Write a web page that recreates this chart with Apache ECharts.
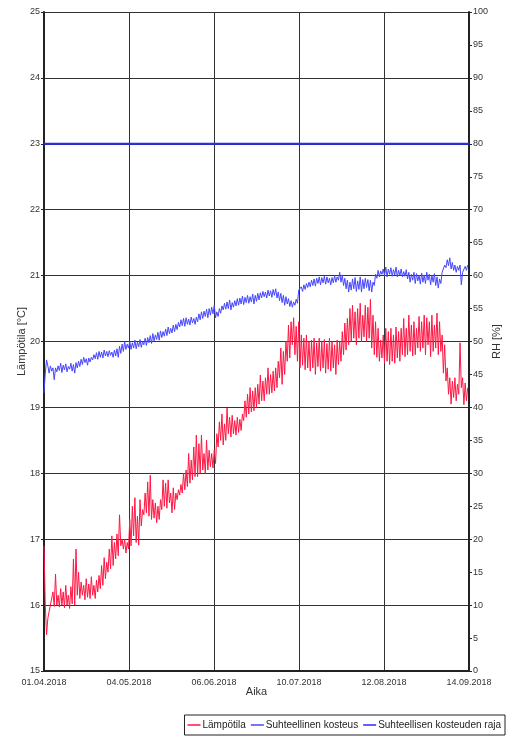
<!DOCTYPE html>
<html>
<head>
<meta charset="utf-8">
<script src="https://cdn.jsdelivr.net/npm/echarts@6/dist/echarts.min.js"></script>
<style>html,body{margin:0;padding:0;background:#fff}#c{width:515px;height:738px}</style>
</head>
<body>
<div id="c"></div>
<script>
// x tick labels (5 equal intervals over 166 days)
const xLabels = ['01.04.2018','04.05.2018','06.06.2018','10.07.2018','12.08.2018','14.09.2018'];
const totalDays = 166;
const seriesNames = ['Lämpötila','Suhteellinen kosteus','Suhteellisen kosteuden raja'];

// Temperature [°C]: value at start of each day (A) and at mid-day (B), days 0..165
const tempA = [
16.9,15.55,15.9,16.0,15.98,16.0,15.97,16.0,15.96,16.0,
15.95,16.02,16.0,16.15,16.1,16.15,16.08,16.12,16.1,16.15,
16.1,16.2,16.25,16.3,16.4,16.5,16.55,16.6,16.7,16.75,
16.9,16.85,16.79,16.85,16.9,17.05,16.95,16.91,17.2,17.37,
17.4,17.35,17.3,17.32,17.25,17.3,17.45,17.5,17.47,17.55,
17.4,17.45,17.6,17.67,17.7,17.75,17.8,17.85,17.9,17.95,
17.95,18.0,18.05,18.0,18.05,18.1,18.08,18.15,18.4,18.5,
18.43,18.5,18.6,18.55,18.6,18.58,18.62,18.65,18.8,18.85,
18.9,18.93,18.95,19.0,19.05,19.1,19.1,19.2,19.2,19.22,
19.25,19.3,19.45,19.35,19.5,19.7,19.75,19.95,19.8,19.7,
19.6,19.64,19.57,19.6,19.55,19.6,19.5,19.62,19.55,19.6,
19.52,19.58,19.55,19.6,19.5,19.65,19.7,19.8,19.87,19.95,
20.0,20.05,19.95,20.05,20.0,20.07,20.0,20.05,19.9,19.8,
19.76,19.7,19.75,19.67,19.7,19.65,19.7,19.67,19.75,19.7,
19.8,19.77,19.8,19.85,19.78,19.8,19.9,19.85,19.9,19.8,
19.95,19.77,19.85,19.9,19.8,19.85,19.52,19.4,19.2,19.05,
19.15,19.1,19.2,19.3,19.04,19.1
];
const tempB = [
16.0,15.8,16.0,16.2,16.47,16.15,16.25,16.2,16.3,16.15,
16.28,16.7,16.85,16.5,16.35,16.3,16.4,16.32,16.43,16.3,
16.38,16.45,16.6,16.72,16.65,16.85,17.05,16.95,17.08,17.37,
17.0,17.0,16.95,17.3,17.5,17.63,17.35,17.6,17.45,17.7,
17.87,17.97,17.6,17.55,17.5,17.6,17.9,17.85,17.9,17.7,
17.78,17.7,17.75,17.83,18.0,18.05,18.3,18.2,18.4,18.58,
18.45,18.58,18.3,18.5,18.35,18.3,18.35,18.6,18.78,18.9,
18.75,18.99,18.85,18.88,18.8,18.85,18.82,18.9,19.1,19.2,
19.3,19.25,19.3,19.35,19.49,19.4,19.45,19.6,19.5,19.55,
19.6,19.7,19.9,19.85,20.0,20.25,20.3,20.36,20.23,20.3,
20.1,20.05,20.1,20.0,20.02,20.05,19.98,20.05,20.0,20.03,
19.97,20.05,20.0,19.95,20.02,20.0,20.15,20.28,20.35,20.5,
20.55,20.45,20.5,20.58,20.4,20.55,20.52,20.64,20.4,20.3,
20.2,20.02,20.1,20.2,20.15,20.2,20.1,20.22,20.15,20.2,
20.35,20.2,20.4,20.25,20.3,20.2,20.38,20.3,20.4,20.36,
20.3,20.4,20.25,20.43,20.3,20.1,19.95,19.6,19.45,19.4,
19.45,19.35,19.98,19.45,19.37,19.3
];

// Relative humidity [%]: value at start of each day (A) and at mid-day (B), days 0..165
const rhA = [
42.2,47.2,45.2,45.5,44.2,45.4,45.6,45.3,45.7,45.4,
45.8,45.5,45.2,46.0,46.2,46.5,46.8,46.4,46.9,47.2,
47.4,47.3,47.6,47.5,47.8,47.7,47.9,47.6,47.8,47.6,
48.2,48.5,48.8,49.0,48.8,49.0,48.9,49.2,49.1,49.5,
49.4,49.8,49.7,50.1,50.3,50.2,50.6,50.8,50.9,51.2,
51.3,51.5,51.8,52.2,52.4,52.3,52.6,52.5,52.8,52.6,
53.0,53.3,53.5,53.8,53.6,54.0,54.2,53.6,53.8,54.3,
54.8,54.9,55.0,54.8,55.2,55.4,55.5,55.7,55.6,55.9,
55.8,56.0,55.7,56.1,56.3,56.6,56.8,56.6,56.9,56.7,
57.0,56.6,56.2,55.9,55.5,55.7,55.3,55.2,55.5,55.8,
57.5,57.6,57.9,58.2,58.3,58.5,58.4,58.8,58.6,58.9,
58.7,58.9,58.6,58.9,59.0,59.3,59.0,58.5,58.0,57.5,
57.8,58.0,57.6,57.9,57.5,58.0,58.2,57.7,57.5,58.5,
59.6,59.8,60.2,60.0,59.8,60.2,59.9,60.1,59.8,60.0,
59.8,59.9,59.5,59.0,59.3,58.8,59.2,58.7,59.0,58.8,
59.3,58.6,59.0,58.5,58.1,58.8,60.5,61.2,61.5,61.0,
60.8,60.5,60.8,58.6,60.5,60.8
];
const rhB = [
45.2,46.3,46.3,46.0,46.0,46.3,46.7,46.4,46.6,46.2,
46.7,46.5,46.8,47.0,47.3,47.6,47.4,47.5,47.6,48.0,
48.3,48.5,48.4,48.7,48.5,48.6,48.4,48.7,48.9,49.3,
49.6,50.0,49.6,50.0,49.8,50.2,49.9,50.3,50.0,50.5,
50.6,50.9,51.2,51.0,51.4,51.6,51.5,51.9,52.2,52.0,
52.5,52.6,52.9,53.3,53.5,53.6,53.4,53.7,53.5,53.7,
54.2,54.5,54.6,54.9,55.0,55.2,55.5,54.5,55.0,55.4,
55.8,56.0,56.3,55.9,56.2,56.5,56.6,56.9,56.7,57.0,
56.8,57.2,57.0,57.3,57.4,57.6,57.5,57.8,57.7,57.9,
58.0,57.5,57.3,57.0,56.8,56.5,56.2,56.0,56.4,57.8,
58.3,58.6,58.8,59.0,59.3,59.5,59.6,59.8,59.7,59.9,
59.8,59.6,59.7,60.0,59.8,60.5,60.1,59.6,59.3,59.0,
59.5,59.7,59.2,59.8,59.4,59.6,59.4,59.3,59.0,60.2,
60.8,60.7,61.0,61.3,61.0,61.2,60.9,61.3,60.8,61.0,
60.6,60.9,60.5,60.2,60.5,60.3,60.0,60.4,60.1,60.5,
60.2,60.0,60.3,59.8,59.5,60.5,61.6,62.4,62.7,62.0,
61.6,61.4,61.6,60.5,61.4,61.6
];

// RH limit [%]
const rhLimit = 80;

function interleave(a, b) {
  const out = [];
  for (let i = 0; i < a.length; i++) {
    out.push([i, a[i]]);
    out.push([i + 0.5, b[i]]);
  }
  return out;
}

const tickStep = totalDays / (xLabels.length - 1);
const font = 'Liberation Sans, Arial, sans-serif';
const lblColor = '#333';
const colors = ['#ff1744', '#4646ff', '#2a2aff'];

const chart = echarts.init(document.getElementById('c'), null, {renderer: 'canvas'});
chart.setOption({
  animation: false,
  backgroundColor: '#fff',
  grid: {left: 44, right: 46, top: 12, bottom: 67, containLabel: false},
  legend: {
    right: 10, bottom: 3,
    data: seriesNames.map((n, i) => ({
      name: n, icon: 'rect',
      itemStyle: {color: colors[i], borderWidth: 0}
    })),
    itemWidth: 13, itemHeight: 1.5,
    itemGap: 5,
    borderColor: '#222', borderWidth: 1, borderRadius: 0,
    padding: [5, 4, 5, 3],
    textStyle: {fontFamily: font, fontSize: 10, color: '#222', padding: [0, 0, 0, -3]}
  },
  xAxis: {
    type: 'value', min: 0, max: totalDays, interval: tickStep,
    name: 'Aika', nameLocation: 'middle', nameGap: 15, nameMoveOverlap: false,
    nameTextStyle: {fontFamily: font, fontSize: 11, color: lblColor},
    axisLine: {show: true, lineStyle: {color: '#222', width: 2}},
    axisTick: {show: false},
    axisLabel: {
      fontFamily: font, fontSize: 9, color: lblColor, margin: 7,
      showMinLabel: true, showMaxLabel: true,
      formatter: v => xLabels[Math.round(v / tickStep)]
    },
    splitLine: {show: true, lineStyle: {color: '#333', width: 1}}
  },
  yAxis: [
    {
      type: 'value', min: 15, max: 25, interval: 1, position: 'left',
      name: 'Lämpötila [°C]', nameLocation: 'middle', nameGap: 17, nameRotate: 90,
      nameMoveOverlap: false,
      nameTextStyle: {fontFamily: font, fontSize: 11, color: lblColor},
      axisLine: {show: true, lineStyle: {color: '#222', width: 2}},
      axisTick: {show: true, length: 3, lineStyle: {color: '#222'}},
      axisLabel: {fontFamily: font, fontSize: 9, color: lblColor, margin: 4},
      splitLine: {show: true, lineStyle: {color: '#333', width: 1}}
    },
    {
      type: 'value', min: 0, max: 100, interval: 5, position: 'right',
      name: 'RH [%]', nameLocation: 'middle', nameGap: 22, nameRotate: 90,
      nameMoveOverlap: false,
      nameTextStyle: {fontFamily: font, fontSize: 11, color: lblColor},
      axisLine: {show: true, lineStyle: {color: '#222', width: 2}},
      axisTick: {show: true, length: 3, lineStyle: {color: '#222'}},
      axisLabel: {fontFamily: font, fontSize: 9, color: lblColor, margin: 4},
      splitLine: {show: false}
    }
  ],
  series: [
    {
      name: seriesNames[0], type: 'line', yAxisIndex: 0,
      data: interleave(tempA, tempB),
      showSymbol: false, symbol: 'none',
      lineStyle: {color: colors[0], width: 1},
      itemStyle: {color: colors[0]}, color: colors[0], z: 3
    },
    {
      name: seriesNames[1], type: 'line', yAxisIndex: 1,
      data: interleave(rhA, rhB),
      showSymbol: false, symbol: 'none',
      lineStyle: {color: colors[1], width: 1},
      itemStyle: {color: colors[1]}, color: colors[1], z: 3
    },
    {
      name: seriesNames[2], type: 'line', yAxisIndex: 1,
      data: [[0, rhLimit], [totalDays, rhLimit]],
      showSymbol: false, symbol: 'none',
      lineStyle: {color: colors[2], width: 2},
      itemStyle: {color: colors[2]}, color: colors[2], z: 3
    }
  ]
});
</script>
</body>
</html>
